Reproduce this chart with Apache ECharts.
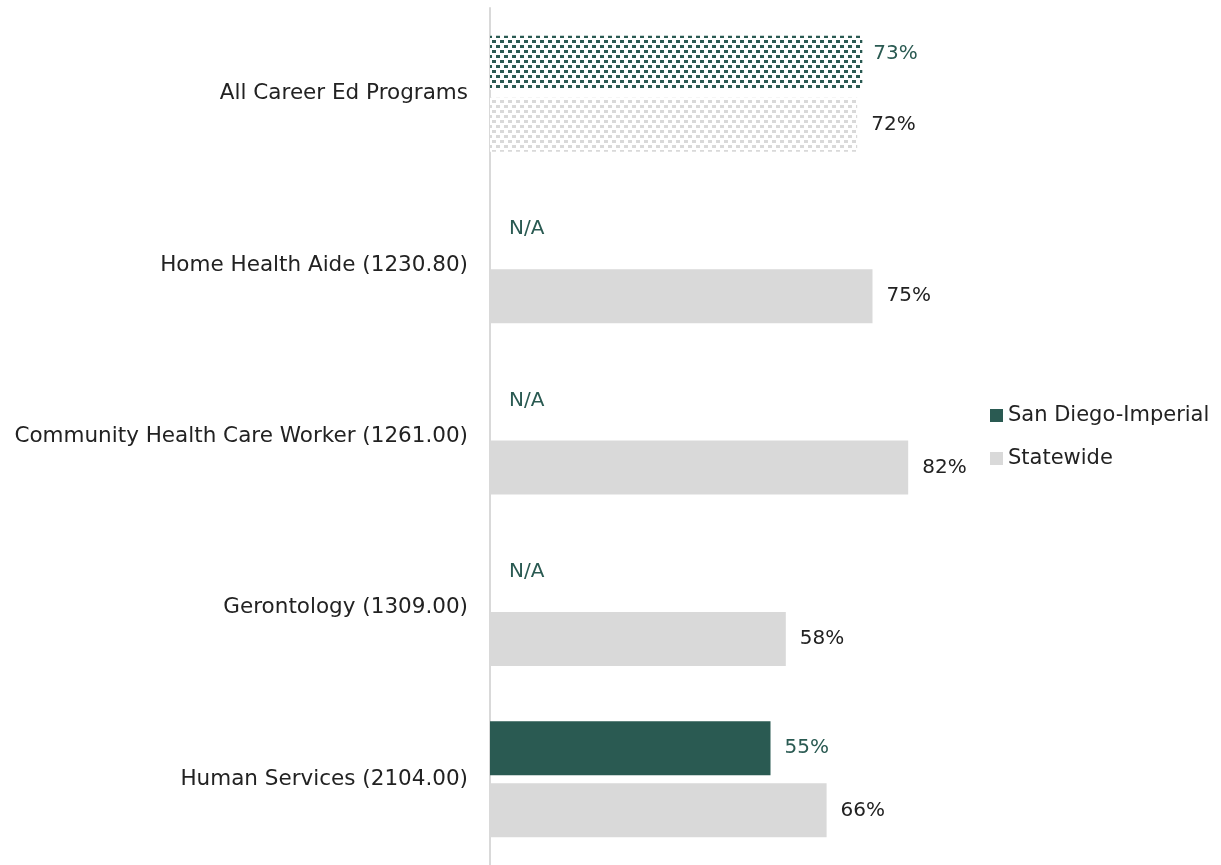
<!DOCTYPE html>
<html>
<head>
<meta charset="utf-8">
<script src="https://cdn.jsdelivr.net/npm/echarts@6/dist/echarts.min.js"></script>
<style>
html,body{margin:0;padding:0;background:#fff;}
#chart{width:1221px;height:865px;}
</style>
</head>
<body>
<div id="chart"></div>
<script>
var categories = [
  'All Career Ed Programs',
  'Home Health Aide (1230.80)',
  'Community Health Care Worker (1261.00)',
  'Gerontology (1309.00)',
  'Human Services (2104.00)'
];
var seriesNames = ['San Diego-Imperial', 'Statewide'];
var sanDiegoValues = [73, null, null, null, 55];
var statewideValues = [72, 75, 82, 58, 66];

var GREEN = '#2A5A52';
var GRAY = '#D9D9D9';
var FONT = 'DejaVu Sans';

function makeDecal(color) {
  return {
    color: color,
    symbol: 'rect',
    symbolSize: 1,
    dashArrayX: [[4, 4], [0, 4, 4, 0]],
    dashArrayY: [3, 2],
    rotation: 0
  };
}

var sdData = sanDiegoValues.map(function (v, i) {
  if (v === null) {
    return { value: 0, label: { formatter: 'N/A', offset: [5, -5] } };
  }
  if (i === 0) {
    return { value: v, itemStyle: { color: '#fff', decal: makeDecal(GREEN) }, label: { offset: [-3, -9] } };
  }
  return { value: v };
});
var stData = statewideValues.map(function (v, i) {
  if (i === 0) {
    return { value: v, itemStyle: { color: '#fff', decal: makeDecal(GRAY) } };
  }
  return { value: v };
});

var chart = echarts.init(document.getElementById('chart'));
chart.setOption({
  animation: false,
  aria: { enabled: false },
  grid: { left: 490, right: 221, top: 8, height: 860 },
  legend: {
    orient: 'vertical',
    left: 990,
    top: 405,
    padding: 0,
    itemWidth: 13,
    itemHeight: 13,
    itemGap: 22,
    icon: 'rect',
    textStyle: { fontFamily: FONT, fontSize: 21, color: '#222' },
    data: seriesNames
  },
  xAxis: {
    type: 'value',
    min: 0,
    max: 100,
    show: false
  },
  yAxis: {
    type: 'category',
    inverse: true,
    data: categories,
    axisLine: { show: true, lineStyle: { color: GRAY, width: 2 } },
    axisTick: { show: false },
    axisLabel: { fontFamily: FONT, fontSize: 21.5, color: '#222', margin: 22, padding: [7, 0, 0, 0] }
  },
  series: [
    {
      name: seriesNames[0],
      type: 'bar',
      data: sdData,
      barWidth: 54,
      barGap: '15%',
      itemStyle: { color: GREEN },
      label: {
        show: true,
        position: 'right',
        distance: 14,
        formatter: '{c}%',
        fontFamily: FONT,
        fontSize: 20,
        color: GREEN
      }
    },
    {
      name: seriesNames[1],
      type: 'bar',
      data: stData,
      barWidth: 54,
      barGap: '15%',
      itemStyle: { color: GRAY },
      label: {
        show: true,
        position: 'right',
        distance: 14,
        formatter: '{c}%',
        fontFamily: FONT,
        fontSize: 20,
        color: '#222'
      }
    }
  ]
});
</script>
</body>
</html>
